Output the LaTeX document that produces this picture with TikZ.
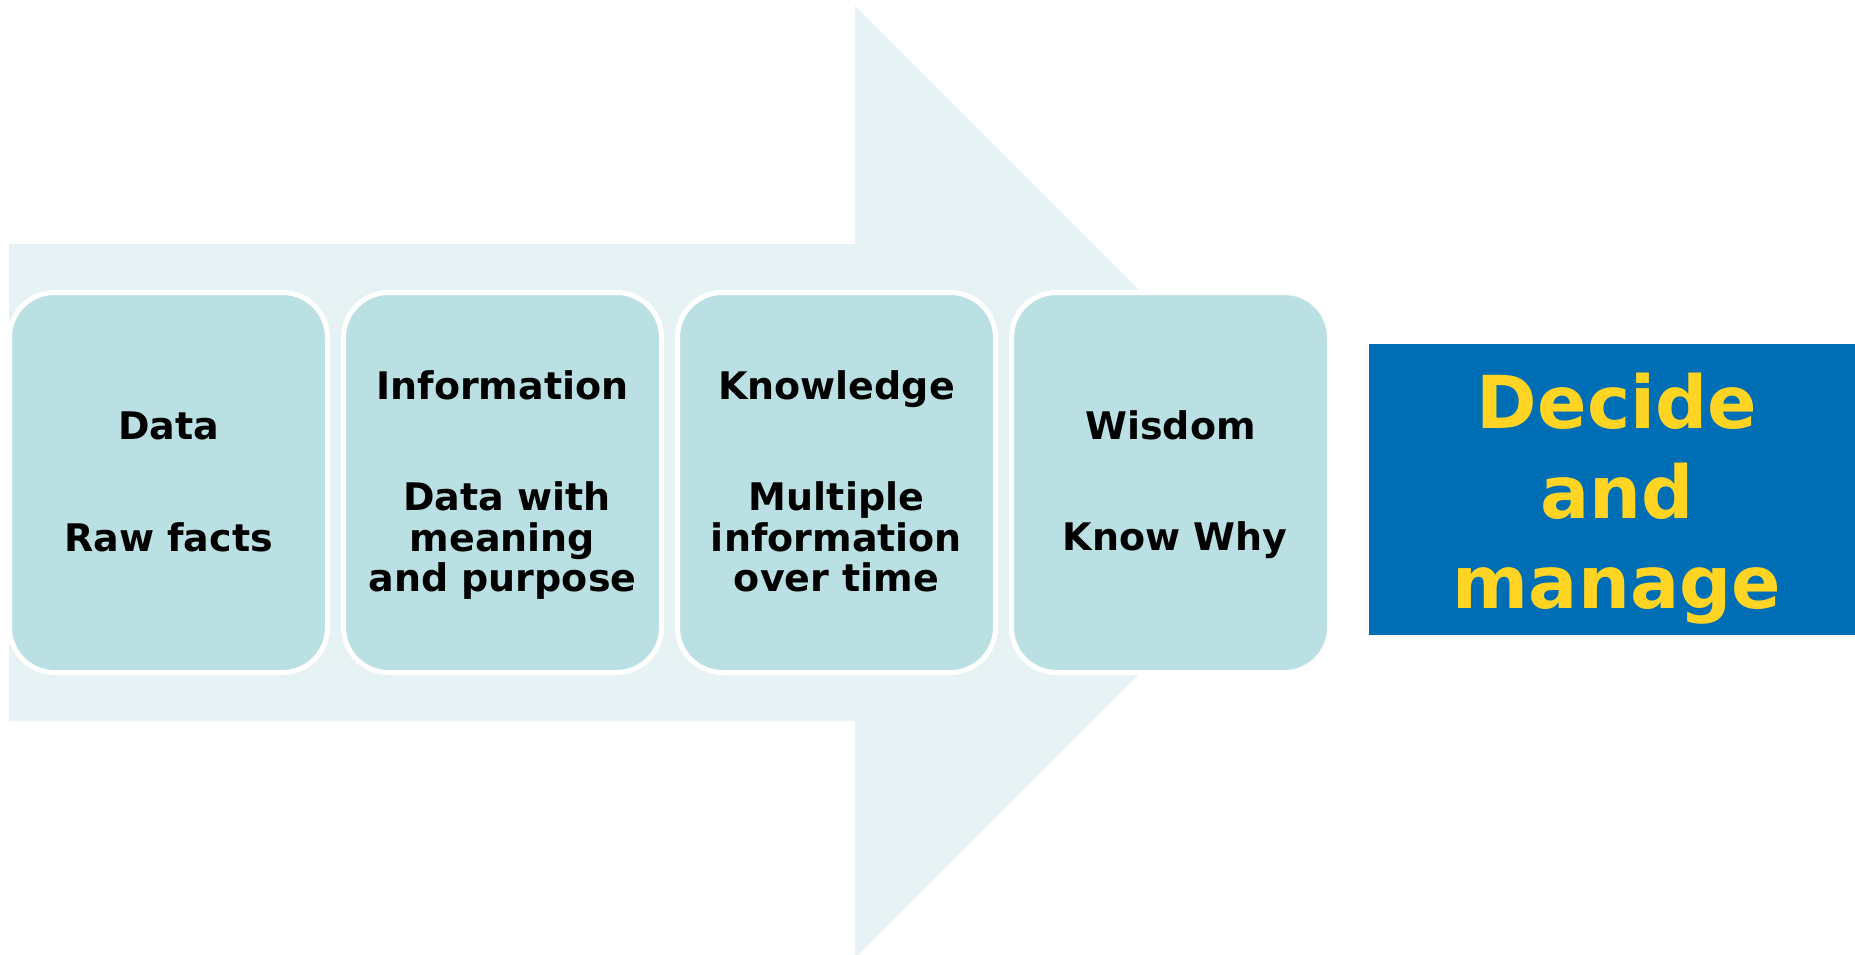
\documentclass[tikz,border=0pt]{standalone}
\usepackage{fontspec}
\setmainfont{DejaVu Sans}
\definecolor{arrowbg}{RGB}{231,242,244}
\definecolor{boxfill}{RGB}{187,224,227}
\definecolor{decideblue}{RGB}{0,110,180}
\definecolor{decideyellow}{RGB}{255,212,35}
\begin{document}
\begin{tikzpicture}[x=1pt,y=-1pt,
  stagebox/.style={draw=white, line width=5pt, fill=boxfill, rounded corners=45pt,
    minimum width=318pt, minimum height=380pt, inner sep=0pt, outer sep=0pt},
  stagetext/.style={anchor=base, inner sep=0pt, font=\fontsize{38}{41}\selectfont\bfseries, text=black},
  bigtext/.style={anchor=base, inner sep=0pt, font=\fontsize{73}{90}\selectfont\bfseries, text=decideyellow}]
\useasboundingbox (0,0) rectangle (1855,955);
% big background arrow
\fill[arrowbg] (9,244) -- (855,244) -- (855,6) -- (1331,482) -- (855,958) -- (855,721) -- (9,721) -- cycle;
% stage boxes
\node[stagebox] (b1) at (168.5,482.5) {};
\node[stagebox] (b2) at (502.5,482.5) {};
\node[stagebox] (b3) at (836.5,482.5) {};
\node[stagebox] (b4) at (1170.5,482.5) {};
% texts
\node[stagetext] (t1a) at (168.5,439) {Data};
\node[stagetext] (t1b) at (168.5,551) {Raw facts};
\node[stagetext] (t2a) at (502.5,399) {Information};
\node[stagetext] (t2b) at (507,510) {Data with};
\node[stagetext] (t2c) at (502.5,551) {meaning};
\node[stagetext] (t2d) at (502.5,591) {and purpose};
\node[stagetext] (t3a) at (836.5,399) {Knowledge};
\node[stagetext] (t3b) at (836.5,510) {Multiple};
\node[stagetext] (t3c) at (836.5,551) {information};
\node[stagetext] (t3d) at (836.5,591) {over time};
\node[stagetext] (t4a) at (1170.5,439) {Wisdom};
\node[stagetext] (t4b) at (1175,550) {Know Why};
% decide box
\node[fill=decideblue, minimum width=486pt, minimum height=291pt, inner sep=0pt, outer sep=0pt] (dec) at (1612,489.5) {};
\node[bigtext] (d1) at (1617,428) {Decide};
\node[bigtext] (d2) at (1617,518) {and};
\node[bigtext] (d3) at (1617,608) {manage};
\end{tikzpicture}
\end{document}
